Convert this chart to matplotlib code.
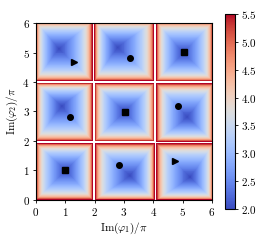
import numpy as np
import matplotlib
matplotlib.use('Agg')
import matplotlib.pyplot as plt
from matplotlib.ticker import FuncFormatter

plt.rcParams['mathtext.fontset'] = 'cm'
plt.rcParams['font.family'] = 'serif'
plt.rcParams['font.serif'] = ['DejaVu Serif']

#%% values (units of pi)
x_edges = [-0.05, 1.95, 4.05, 6.05]
y_edges = [-0.04, 1.95, 4.0, 6.1]

# minimum of each cell, row by row from the bottom
apex_x = [[1.0, 3.2, 5.25], [0.85, 3.0, 5.15], [0.75, 2.75, 5.0]]
apex_y = [[1.0, 0.8, 0.75], [3.2, 3.0, 2.8], [5.15, 5.2, 5.0]]

# profile: normalised distance from minimum -> value
prof_r = [0.0, 0.2, 0.45, 0.65, 0.78, 0.86, 0.91, 0.94, 0.965]
prof_v = [2.0, 2.3, 2.8, 3.3, 3.8, 4.3, 4.8, 5.3, 5.8]
r_cut = 0.968

# markers
tri_x, tri_y = [1.3, 4.74], [4.68, 1.32]
circ_x, circ_y = [3.2, 1.16, 4.85, 2.83], [4.8, 2.81, 3.19, 1.19]
sq_x, sq_y = [5.05, 3.04, 0.99], [5.02, 2.98, 1.02]

#%% build the field
n = 180
xs = np.linspace(0, 6, n)
ys = np.linspace(0, 6, n)
X, Y = np.meshgrid(xs, ys)
R = np.full(X.shape, 2.0)
for j in range(3):
    for i in range(3):
        x0, x1 = x_edges[i], x_edges[i + 1]
        y0, y1 = y_edges[j], y_edges[j + 1]
        ax_, ay_ = apex_x[j][i], apex_y[j][i]
        m = (X >= x0) & (X < x1) & (Y >= y0) & (Y < y1)
        r = np.maximum.reduce([(X - ax_) / (x1 - ax_), (ax_ - X) / (ax_ - x0),
                               (Y - ay_) / (y1 - ay_), (ay_ - Y) / (ay_ - y0)])
        R[m] = r[m]
Z = np.interp(R, prof_r, prof_v)
Z[R > r_cut] = np.nan

#%% plot
fig = plt.figure(figsize=(2.7, 2.4), dpi=100)
ax = fig.add_axes([0.133, 0.167, 0.652, 0.737])
cax = fig.add_axes([0.833, 0.129, 0.037, 0.813])

cmap = plt.get_cmap('coolwarm').copy()
cmap.set_bad('white')
im = ax.imshow(Z, origin='lower', extent=[0, 6, 0, 6], cmap=cmap, vmin=2, vmax=5.5,
               interpolation='nearest', aspect='auto')

ax.plot(tri_x, tri_y, '>', color='k', ms=4.5)
ax.plot(circ_x, circ_y, 'o', color='k', ms=4)
ax.plot(sq_x, sq_y, 's', color='k', ms=4)

ax.set_xlim(0, 6)
ax.set_ylim(0, 6)
ax.set_xticks(range(7))
ax.set_yticks(range(7))
fmt = FuncFormatter(lambda v, p: '$%d$' % v)
ax.xaxis.set_major_formatter(fmt)
ax.yaxis.set_major_formatter(fmt)
ax.tick_params(labelsize=8, length=2.5, width=0.6, pad=2)
for s in ax.spines.values():
    s.set_linewidth(0.8)
ax.set_xlabel(r'$\mathrm{Im}(\varphi_1)/\pi$', fontsize=8, labelpad=2)
ax.set_ylabel(r'$\mathrm{Im}(\varphi_2)/\pi$', fontsize=8, labelpad=2)

cb = fig.colorbar(im, cax=cax)
cb.set_ticks(np.arange(2.0, 5.51, 0.5))
cb.ax.yaxis.set_major_formatter(FuncFormatter(lambda v, p: '$%.1f$' % v))
cb.ax.tick_params(labelsize=8, length=2.5, width=0.6, pad=2)
cb.outline.set_linewidth(0.8)

plt.savefig('out.png', dpi=100)
